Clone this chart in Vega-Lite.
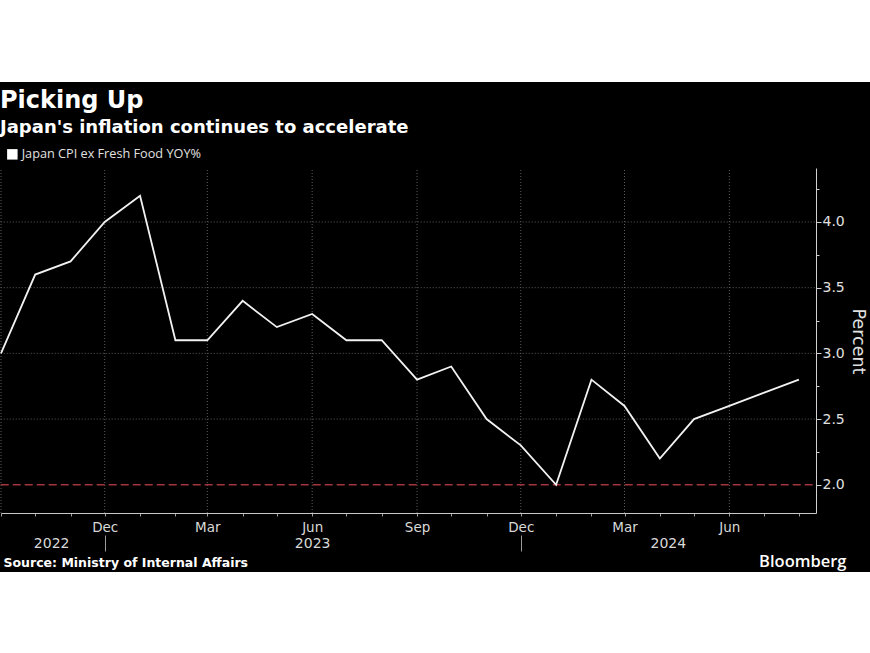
{
  "$schema": "https://vega.github.io/schema/vega-lite/v6.json",
  "width": 870,
  "height": 490,
  "autosize": {"type": "none"},
  "padding": {"top": 82, "bottom": 81, "left": 0, "right": 0},
  "background": "#ffffff",
  "config": {
    "view": {"fill": "#000000", "stroke": null},
    "font": "DejaVu Sans"
  },
  "title": {
    "text": "Picking Up",
    "subtitle": "Japan's inflation continues to accelerate",
    "anchor": "start",
    "frame": "group",
    "orient": "top",
    "font": "DejaVu Sans",
    "fontSize": 24,
    "fontWeight": "bold",
    "color": "#ffffff",
    "subtitleFont": "DejaVu Sans",
    "subtitleFontSize": 18,
    "subtitleFontWeight": "bold",
    "subtitleColor": "#ffffff",
    "subtitlePadding": 6,
    "offset": -55
  },
  "datasets": {
    "cpi": [
      {"date": "2022-09-01", "value": 3.0},
      {"date": "2022-10-01", "value": 3.6},
      {"date": "2022-11-01", "value": 3.7},
      {"date": "2022-12-01", "value": 4.0},
      {"date": "2023-01-01", "value": 4.2},
      {"date": "2023-02-01", "value": 3.1},
      {"date": "2023-03-01", "value": 3.1},
      {"date": "2023-04-01", "value": 3.4},
      {"date": "2023-05-01", "value": 3.2},
      {"date": "2023-06-01", "value": 3.3},
      {"date": "2023-07-01", "value": 3.1},
      {"date": "2023-08-01", "value": 3.1},
      {"date": "2023-09-01", "value": 2.8},
      {"date": "2023-10-01", "value": 2.9},
      {"date": "2023-11-01", "value": 2.5},
      {"date": "2023-12-01", "value": 2.3},
      {"date": "2024-01-01", "value": 2.0},
      {"date": "2024-02-01", "value": 2.8},
      {"date": "2024-03-01", "value": 2.6},
      {"date": "2024-04-01", "value": 2.2},
      {"date": "2024-05-01", "value": 2.5},
      {"date": "2024-06-01", "value": 2.6},
      {"date": "2024-07-01", "value": 2.7},
      {"date": "2024-08-01", "value": 2.8}
    ],
    "quarters": [
      {"date": "2022-09-01"},
      {"date": "2022-12-01"},
      {"date": "2023-03-01"},
      {"date": "2023-06-01"},
      {"date": "2023-09-01"},
      {"date": "2023-12-01"},
      {"date": "2024-03-01"},
      {"date": "2024-06-01"}
    ],
    "hgrid": [
      {"v": 2.5},
      {"v": 3.0},
      {"v": 3.5},
      {"v": 4.0}
    ],
    "target": [
      {"v": 2.0}
    ]
  },
  "resolve": {"axis": {"x": "independent"}},
  "layer": [
    {
      "data": {"name": "quarters"},
      "mark": {"type": "rule", "color": "#5c5c5c", "strokeDash": [1, 2], "strokeWidth": 1},
      "encoding": {
        "x": {
          "field": "date",
          "type": "temporal",
          "axis": {
            "orient": "bottom",
            "offset": -37,
            "values": [
              {"year": 2022, "month": 10, "date": 15, "utc": true},
              {"year": 2022, "month": 12, "date": 1, "utc": true},
              {"year": 2023, "month": 6, "date": 1, "utc": true},
              {"year": 2023, "month": 12, "date": 1, "utc": true},
              {"year": 2024, "month": 4, "date": 8, "utc": true}
            ],
            "domain": false,
            "grid": false,
            "ticks": true,
            "tickSize": 16,
            "tickColor": "#9a9a9a",
            "tickOpacity": {"condition": {"test": "utcmonth(datum.value) == 11", "value": 1}, "value": 0},
            "labelExpr": "utcmonth(datum.value) == 11 ? '' : utcFormat(datum.value, '%Y')",
            "labelFont": "DejaVu Sans",
            "labelFontSize": 14,
            "labelColor": "#d9d9d9",
            "labelPadding": -15,
            "labelOverlap": false,
            "labelFlush": false,
            "title": "Bloomberg",
            "titleFont": "Open Sans",
            "titleFontWeight": 600,
            "titleFontSize": 16.5,
            "titleColor": "#ffffff",
            "titleX": 846,
            "titleY": 31,
            "titleAlign": "right",
            "titleBaseline": "alphabetic"
          }
        },
        "y": {"datum": 1.785, "type": "quantitative", "title": "Percent"},
        "y2": {"datum": 4.411}
      }
    },
    {
      "data": {"name": "hgrid"},
      "mark": {"type": "rule", "color": "#5c5c5c", "strokeDash": [1, 2], "strokeWidth": 1},
      "encoding": {
        "y": {"field": "v", "type": "quantitative", "title": "Percent"},
        "x": {"datum": {"year": 2022, "month": 8, "date": 31, "hours": 18, "utc": true}, "type": "temporal", "axis": null},
        "x2": {"datum": {"year": 2024, "month": 8, "date": 16, "utc": true}}
      }
    },
    {
      "data": {"name": "target"},
      "mark": {"type": "rule", "color": "#a3343f", "strokeDash": [8, 4], "strokeWidth": 1.5},
      "encoding": {
        "y": {"field": "v", "type": "quantitative", "title": "Percent"},
        "x": {"datum": {"year": 2022, "month": 8, "date": 31, "hours": 18, "utc": true}, "type": "temporal", "axis": null},
        "x2": {"datum": {"year": 2024, "month": 8, "date": 16, "utc": true}}
      }
    },
    {
      "data": {"name": "cpi"},
      "mark": {"type": "line", "strokeWidth": 1.8, "interpolate": "linear"},
      "encoding": {
        "x": {
          "field": "date",
          "type": "temporal",
          "scale": {
            "type": "utc",
            "domain": [
              {"year": 2022, "month": 9, "date": 1, "utc": true},
              {"year": 2024, "month": 8, "date": 16, "utc": true}
            ],
            "range": [1, 816]
          },
          "axis": {
            "orient": "bottom",
            "offset": -59,
            "values": [
              {"year": 2022, "month": 9, "date": 1, "utc": true},
              {"year": 2022, "month": 10, "date": 1, "utc": true},
              {"year": 2022, "month": 11, "date": 1, "utc": true},
              {"year": 2022, "month": 12, "date": 1, "utc": true},
              {"year": 2023, "month": 1, "date": 1, "utc": true},
              {"year": 2023, "month": 2, "date": 1, "utc": true},
              {"year": 2023, "month": 3, "date": 1, "utc": true},
              {"year": 2023, "month": 4, "date": 1, "utc": true},
              {"year": 2023, "month": 5, "date": 1, "utc": true},
              {"year": 2023, "month": 6, "date": 1, "utc": true},
              {"year": 2023, "month": 7, "date": 1, "utc": true},
              {"year": 2023, "month": 8, "date": 1, "utc": true},
              {"year": 2023, "month": 9, "date": 1, "utc": true},
              {"year": 2023, "month": 10, "date": 1, "utc": true},
              {"year": 2023, "month": 11, "date": 1, "utc": true},
              {"year": 2023, "month": 12, "date": 1, "utc": true},
              {"year": 2024, "month": 1, "date": 1, "utc": true},
              {"year": 2024, "month": 2, "date": 1, "utc": true},
              {"year": 2024, "month": 3, "date": 1, "utc": true},
              {"year": 2024, "month": 4, "date": 1, "utc": true},
              {"year": 2024, "month": 5, "date": 1, "utc": true},
              {"year": 2024, "month": 6, "date": 1, "utc": true},
              {"year": 2024, "month": 7, "date": 1, "utc": true},
              {"year": 2024, "month": 8, "date": 1, "utc": true}
            ],
            "labelExpr": "(utcmonth(datum.value) % 3 == 2 && !(utcyear(datum.value) == 2022 && utcmonth(datum.value) == 8)) ? utcFormat(datum.value, '%b') : ''",
            "grid": false,
            "tickSize": 3,
            "tickColor": "#a0a0a0",
            "domainColor": "#c8c8c8",
            "domainWidth": 1,
            "labelFont": "DejaVu Sans",
            "labelFontSize": 13.5,
            "labelColor": "#d9d9d9",
            "labelPadding": 4,
            "labelOverlap": false,
            "labelFlush": false,
            "title": "Source: Ministry of Internal Affairs",
            "titleFont": "DejaVu Sans",
            "titleFontSize": 12.5,
            "titleFontWeight": "bold",
            "titleColor": "#ffffff",
            "titleX": 3,
            "titleY": 53.5,
            "titleAlign": "left",
            "titleBaseline": "alphabetic"
          }
        },
        "y": {
          "field": "value",
          "type": "quantitative",
          "title": "Percent",
          "scale": {"domain": [1.785, 4.411], "range": [431, 86], "nice": false, "zero": false},
          "axis": {
            "orient": "right",
            "offset": -54,
            "values": [2.0, 2.25, 2.5, 2.75, 3.0, 3.25, 3.5, 3.75, 4.0, 4.25],
            "labelExpr": "(datum.value * 2) % 1 == 0 ? format(datum.value, '.1f') : ''",
            "grid": false,
            "tickSize": {"condition": {"test": "(datum.value * 2) % 1 == 0", "value": 5}, "value": 3},
            "tickColor": "#d0d0d0",
            "domainColor": "#d0d0d0",
            "domainWidth": 1,
            "labelFont": "DejaVu Sans",
            "labelFontSize": 14,
            "labelColor": "#e0e0e0",
            "labelPadding": 1,
            "labelOverlap": false,
            "labelFlush": false,
            "titleFont": "DejaVu Sans",
            "titleFontSize": 17.5,
            "titleFontWeight": "normal",
            "titleColor": "#e0e0e0",
            "titleAngle": 90,
            "titleX": 36,
            "titleY": 259,
            "titleAlign": "center",
            "titleBaseline": "alphabetic"
          }
        },
        "color": {
          "datum": "Japan CPI ex Fresh Food YOY%",
          "type": "nominal",
          "scale": {"range": ["#f2f2f2"]},
          "legend": {
            "orient": "none",
            "legendX": 6,
            "legendY": 66,
            "title": null,
            "symbolType": "square",
            "symbolSize": 110,
            "symbolFillColor": "#ffffff",
            "symbolStrokeColor": "#ffffff",
            "symbolStrokeWidth": 0,
            "labelFont": "Open Sans",
            "labelFontSize": 12.7,
            "labelLimit": 400,
            "labelColor": "#e0e0e0",
            "labelOffset": 3
          }
        }
      }
    }
  ]
}
